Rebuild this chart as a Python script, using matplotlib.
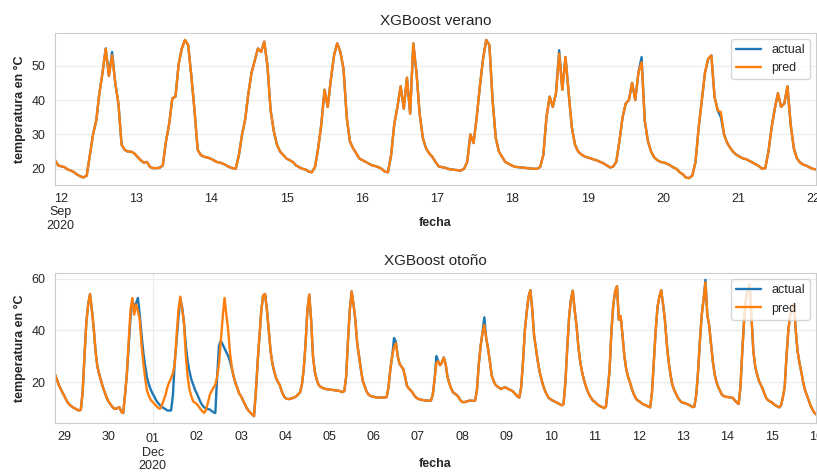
import matplotlib
matplotlib.use("Agg")
import matplotlib.pyplot as plt
import numpy as np
import pandas as pd
import seaborn as sns

# hourly temperature, one row per day
actual_verano = [
    [22.5, 21.0, 20.7, 20.5, 19.8, 19.5, 19.0, 18.3, 17.8, 17.5, 18.0, 24.0, 30.0, 34.0, 42.0, 48.0, 55.0, 47.0, 54.0, 45.0, 39.0, 27.0, 25.5, 25.0],  # 12
    [25.0, 24.5, 23.5, 22.5, 21.8, 22.0, 20.5, 20.2, 20.2, 20.3, 21.0, 28.0, 33.0, 40.5, 41.0, 50.5, 55.0, 57.5, 56.0, 47.0, 37.0, 25.5, 24.0, 23.5],  # 13
    [23.3, 23.0, 22.5, 22.0, 21.8, 21.5, 21.0, 20.5, 20.2, 20.0, 24.0, 30.0, 34.5, 42.0, 48.0, 51.5, 55.0, 54.0, 57.0, 50.0, 37.0, 31.0, 27.0, 25.0],  # 14
    [24.0, 23.0, 22.5, 22.0, 21.0, 20.5, 20.0, 19.8, 19.2, 19.0, 20.5, 26.0, 33.0, 43.0, 38.0, 46.0, 53.0, 56.5, 54.0, 49.0, 35.0, 28.0, 26.0, 24.5],  # 15
    [23.0, 22.5, 22.0, 21.5, 21.0, 20.8, 20.5, 20.0, 19.2, 19.0, 24.0, 33.0, 38.0, 44.0, 37.5, 46.5, 36.0, 56.5, 48.0, 36.0, 29.0, 26.0, 24.5, 23.5],  # 16
    [22.0, 20.7, 20.5, 20.3, 20.0, 19.8, 19.7, 19.6, 19.5, 20.0, 22.0, 30.0, 27.5, 35.0, 44.0, 52.0, 57.5, 56.0, 40.0, 29.0, 25.0, 23.5, 22.0, 21.5],  # 17
    [21.0, 20.6, 20.5, 20.4, 20.3, 20.2, 20.1, 20.0, 20.0, 20.5, 24.0, 35.0, 41.0, 38.0, 42.0, 54.5, 43.0, 52.5, 42.0, 32.0, 27.0, 25.0, 24.2, 23.6],  # 18
    [23.3, 23.0, 22.7, 22.4, 22.0, 21.6, 21.0, 20.4, 20.6, 22.0, 28.0, 35.0, 39.0, 40.0, 45.0, 40.0, 48.0, 52.5, 34.0, 28.0, 25.0, 23.3, 22.5, 22.0],  # 19
    [21.8, 21.5, 21.0, 20.4, 20.0, 19.0, 18.4, 17.4, 17.3, 18.0, 22.0, 32.0, 40.0, 48.0, 52.0, 53.0, 41.0, 37.0, 35.0, 30.0, 27.5, 26.0, 24.8, 24.0],  # 20
    [23.5, 23.0, 22.8, 22.3, 21.8, 21.3, 20.8, 20.0, 20.2, 25.0, 32.0, 37.5, 42.0, 38.0, 39.0, 44.0, 33.0, 26.0, 23.0, 21.8, 21.2, 20.9, 20.4, 20.0],  # 21
    [19.8],  # 22
]
# (day of September, hour) -> prediction where it leaves the actual curve
pred_verano_fix = {(12, 18): 53.0, (18, 15): 53.5, (19, 17): 51.0, (20, 18): 36.5}

actual_otono = [
    [23.0, 21.0, 19.0, 17.5, 16.0],  # 28 Nov, 19h-23h
    [14.7, 13.2, 12.0, 11.2, 10.6, 10.1, 9.7, 9.3, 9.0, 9.3, 16.0, 30.0, 43.0, 50.0, 54.0, 48.0, 41.0, 32.0, 26.0, 23.0, 20.5, 18.0, 16.0, 14.0],  # 29
    [12.5, 11.5, 10.5, 9.8, 9.6, 10.0, 10.2, 8.5, 8.0, 15.0, 23.0, 34.0, 45.0, 51.5, 49.0, 50.5, 52.5, 46.0, 38.0, 31.0, 26.0, 21.5, 19.0, 17.0],  # 30
    [15.5, 14.2, 12.8, 11.8, 11.0, 10.4, 9.9, 9.5, 9.0, 9.0, 9.0, 15.0, 28.0, 36.0, 45.0, 52.0, 49.0, 43.0, 34.0, 28.0, 24.0, 21.0, 19.0, 17.0],  # 01
    [15.5, 13.8, 12.2, 11.0, 10.2, 9.7, 9.5, 9.4, 8.8, 8.3, 8.0, 22.0, 34.0, 36.0, 34.5, 33.0, 31.5, 30.0, 28.0, 25.0, 22.0, 19.5, 17.5, 15.5],  # 02
    [14.5, 13.0, 11.5, 10.0, 9.0, 8.2, 7.5, 6.8, 16.0, 28.0, 38.0, 48.0, 53.5, 54.0, 48.0, 40.0, 32.0, 27.0, 24.0, 21.5, 20.0, 18.8, 16.5, 14.8],  # 03
    [13.8, 13.5, 13.4, 13.6, 13.8, 14.1, 14.5, 15.3, 16.0, 19.0, 25.0, 35.0, 48.0, 53.8, 44.0, 30.0, 24.0, 21.0, 19.0, 18.2, 17.8, 17.5, 17.3, 17.2],  # 04
    [17.1, 17.0, 16.9, 16.8, 16.7, 16.6, 16.4, 16.1, 16.5, 22.0, 36.0, 48.0, 55.0, 50.0, 44.0, 35.0, 30.0, 25.0, 20.5, 18.5, 16.5, 15.3, 14.7, 14.4],  # 05
    [14.3, 14.1, 14.0, 14.0, 14.0, 14.1, 14.0, 14.2, 18.0, 25.0, 30.0, 37.0, 35.5, 30.0, 27.0, 26.0, 25.0, 22.0, 18.6, 17.5, 16.8, 16.0, 14.8, 14.0],  # 06
    [13.5, 13.3, 13.1, 13.0, 12.9, 12.8, 12.8, 12.8, 15.0, 21.0, 30.0, 28.0, 26.5, 27.5, 29.5, 27.0, 22.0, 19.5, 17.5, 16.0, 15.5, 15.0, 14.2, 13.0],  # 07
    [12.3, 12.2, 12.4, 12.6, 12.8, 12.8, 12.7, 12.9, 17.0, 27.0, 34.0, 39.0, 45.0, 37.0, 33.0, 28.0, 22.5, 20.5, 19.0, 18.3, 17.8, 17.3, 17.6, 18.0],  # 08
    [17.8, 17.3, 17.0, 16.6, 16.0, 15.2, 14.4, 14.0, 18.0, 28.0, 40.0, 47.0, 53.0, 55.5, 48.0, 38.0, 33.0, 28.0, 24.0, 21.0, 18.5, 16.5, 15.0, 13.8],  # 09
    [13.3, 12.9, 12.5, 12.2, 11.8, 11.4, 11.0, 11.5, 20.0, 33.0, 45.0, 52.0, 55.3, 48.0, 42.0, 34.0, 28.0, 24.0, 21.0, 18.6, 16.5, 15.0, 13.8, 12.8],  # 10
    [12.3, 11.6, 11.0, 10.6, 10.3, 9.9, 10.5, 17.0, 25.0, 40.0, 50.0, 55.0, 57.0, 44.0, 45.5, 38.0, 30.0, 25.0, 22.0, 20.0, 17.5, 15.5, 14.0, 13.0],  # 11
    [12.6, 12.0, 11.5, 11.2, 10.9, 10.5, 10.2, 16.0, 28.0, 40.0, 49.0, 53.0, 55.5, 50.0, 44.0, 35.0, 28.0, 23.0, 19.0, 17.0, 15.5, 14.0, 13.0, 12.2],  # 12
    [12.0, 11.8, 11.5, 11.2, 10.8, 10.3, 10.5, 15.0, 24.0, 36.0, 46.0, 52.0, 59.5, 46.0, 42.0, 35.0, 28.0, 23.0, 20.0, 18.0, 16.5, 15.0, 14.6, 14.3],  # 13
    [14.2, 14.1, 14.0, 13.8, 12.8, 12.2, 11.5, 18.0, 32.0, 44.0, 52.0, 56.0, 57.7, 45.0, 32.0, 26.0, 23.0, 20.5, 19.0, 17.5, 15.5, 13.8, 13.0, 12.5],  # 14
    [12.2, 11.5, 11.0, 10.6, 10.2, 11.0, 14.0, 18.0, 30.0, 40.0, 46.0, 48.0, 50.5, 40.0, 32.0, 27.5, 24.0, 20.0, 17.0, 15.0, 13.0, 11.0, 9.5, 8.2],  # 15
    [7.5],  # 16
]
# where the otono prediction departs from the actual curve
pred_otono_30nov_02dec = [
    12.5, 11.5, 10.5, 9.8, 9.6, 10.0, 10.2, 8.5, 8.0, 15.0, 23.0, 36.0, 48.0, 52.5, 46.0, 50.0, 47.5, 44.0, 34.0, 27.0, 21.0, 16.5, 14.5, 13.0,
    12.3, 11.5, 10.7, 10.0, 9.6, 11.0, 13.0, 15.0, 18.0, 20.0, 21.5, 23.5, 27.0, 38.0, 48.0, 53.0, 48.0, 43.0, 30.0, 22.0, 17.0, 14.5, 12.5, 12.0,
    11.5, 10.5, 9.5, 8.7, 8.1, 9.5, 12.0, 15.0, 16.5, 17.8, 19.0, 22.0, 27.0, 36.0, 45.0, 52.5, 46.0, 40.0, 31.0, 25.5, 22.0, 19.5, 17.5, 15.5,
]
pred_otono_fix = {
    "2020-12-06 11:00": 33.5, "2020-12-06 12:00": 35.0,
    "2020-12-07 10:00": 27.5, "2020-12-08 12:00": 42.0,
    "2020-12-13 12:00": 58.5,
}

sns.set_style("whitegrid")
plt.rcParams["font.family"] = ["Liberation Sans", "DejaVu Sans"]
plt.rcParams["grid.color"] = "#ebebeb"


def flatten(rows):
    return np.concatenate([np.asarray(r, dtype=float) for r in rows])


def day_ticks(ax, days, month_day, month_grid):
    # pandas-style labels: day number, month and year under one day
    labels = [d.strftime("%d\n%b\n%Y") if d == month_day else d.strftime("%d") for d in days]
    if month_grid:
        ax.set_xticks([month_day], [labels[list(days).index(month_day)]])
        rest = [(d, l) for d, l in zip(days, labels) if d != month_day]
        ax.set_xticks([d for d, _ in rest], [l for _, l in rest], minor=True)
    else:
        ax.set_xticks([])
        ax.set_xticks(list(days), labels, minor=True)
    ax.tick_params(axis="x", which="both", labelsize=9)


def main():
    # summer series
    v_actual = flatten(actual_verano)
    v_time = pd.date_range("2020-09-11 22:11", "2020-09-22 00:44", periods=len(v_actual))
    v_pred = v_actual.copy()
    for (day, hour), val in pred_verano_fix.items():
        v_pred[(day - 12) * 24 + hour] = val

    # autumn series
    o_time = pd.date_range("2020-11-28 19:00", periods=len(flatten(actual_otono)), freq="h")
    o_actual = pd.Series(flatten(actual_otono), index=o_time)
    o_pred = o_actual.copy()
    o_pred.loc["2020-11-30 00:00":"2020-12-02 23:00"] = pred_otono_30nov_02dec
    for ts, val in pred_otono_fix.items():
        o_pred.loc[ts] = val

    fig = plt.figure(figsize=(8.17, 4.73), dpi=100)
    ax1 = fig.add_axes([55 / 817, 1 - 185 / 473, 761 / 817, 152 / 473])
    ax2 = fig.add_axes([55 / 817, 1 - 423 / 473, 761 / 817, 150 / 473])

    ax1.plot(v_time, v_actual, color="tab:blue", lw=1.7, label="actual")
    ax1.plot(v_time, v_pred, color="tab:orange", lw=1.7, label="pred")
    ax1.set_xlim(v_time[0], v_time[-1])
    ax1.set_yticks([20, 30, 40, 50])
    day_ticks(ax1, pd.date_range("2020-09-12", "2020-09-22", freq="D"),
              pd.Timestamp("2020-09-12"), month_grid=False)
    ax1.set_title("XGBoost verano", fontsize=11)

    ax2.plot(o_time, o_actual.values, color="tab:blue", lw=1.7, label="actual")
    ax2.plot(o_time, o_pred.values, color="tab:orange", lw=1.7, label="pred")
    ax2.set_xlim(o_time[0], o_time[-1])
    ax2.set_yticks([20, 40, 60])
    day_ticks(ax2, pd.date_range("2020-11-29", "2020-12-16", freq="D"),
              pd.Timestamp("2020-12-01"), month_grid=True)
    ax2.set_title("XGBoost otoño", fontsize=11)

    for ax in (ax1, ax2):
        ax.tick_params(axis="y", labelsize=9)
        ax.set_ylabel("temperatura en °C", fontsize=9, fontweight="bold")
        ax.set_xlabel("fecha", fontsize=9, fontweight="bold")
        ax.legend(loc="upper right", fontsize=9)
    ax1.xaxis.set_label_coords(0.5, -0.21)
    ax2.xaxis.set_label_coords(0.5, -0.23)

    fig.savefig("out.png", dpi=100)


if __name__ == "__main__":
    main()
